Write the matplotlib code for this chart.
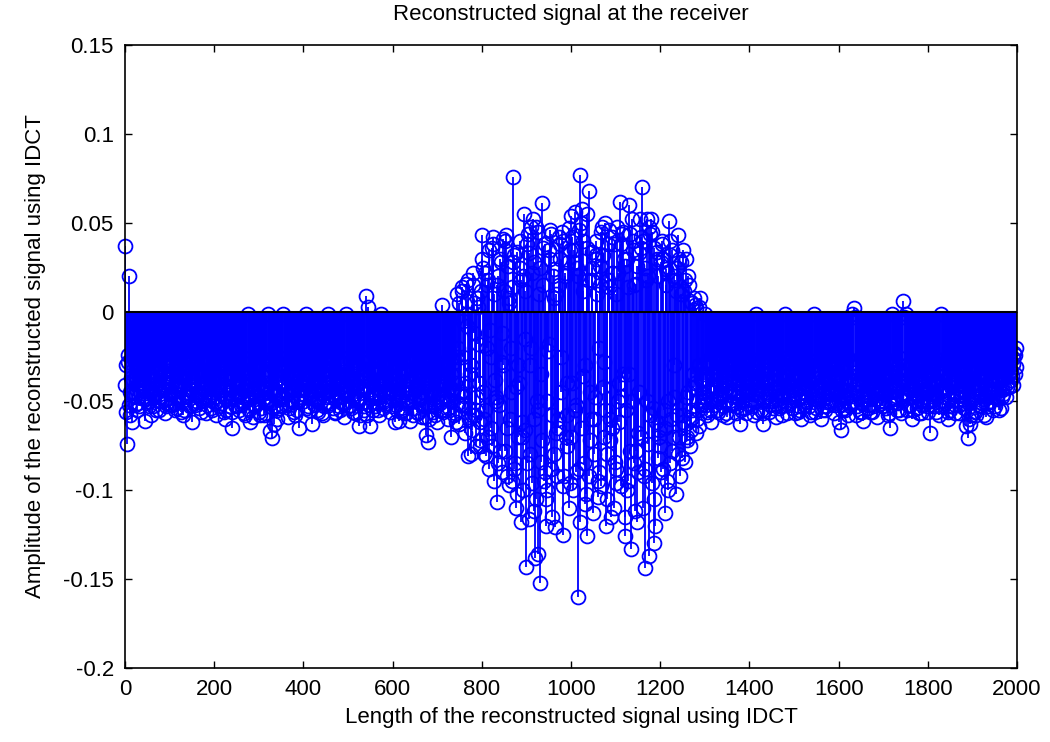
import matplotlib
matplotlib.use("Agg")
import matplotlib.pyplot as plt
import numpy as np

plt.rcParams["font.family"] = ["Liberation Sans", "DejaVu Sans"]

# amplitudes, in thousandths; each segment covers 200 samples
# set A: offset 0, step 5
seg_a = [
    [37, -74, 20, -62, -24, -43, -51, -36, -48, -61, -40, -53, -33, -47, -55, -29, -50, -44, -57, -38,
     -52, -46, -35, -54, -49, -41, -58, -31, -47, -53, -62, -39, -50, -45, -56, -34, -48, -52, -42, -55],
    [-48, -58, -36, -51, -44, -60, -39, -53, -65, -47, -41, -55, -33, -50, -58, -1, -62, -45, -52, -38,
     -56, -43, -49, -57, -1, -67, -71, -63, -46, -54, -40, -1, -52, -59, -44, -50, -36, -55, -65, -48],
    [-42, -1, -53, -47, -63, -38, -55, -49, -44, -58, -35, -1, -51, -46, -56, -40, -53, -48, -59, -1,
     -45, -52, -37, -57, -49, -64, -43, -55, 9, 3, -64, -47, -53, -39, -58, -1, -44, -51, -36, -56],
    [-49, -62, -41, -61, -54, -45, -57, -38, -61, -50, -44, -56, -47, -59, -42, -69, -73, -52, -46, -58,
     -62, -40, 4, -55, -48, -60, -70, -44, -57, 10, -63, 14, -52, 16, -81, -80, 22, -58, 8, -72],
    [43, -80, -81, 18, -65, 42, -38, -107, 30, -90, 12, 43, -97, -20, 76, -85, -102, 25, -70, 55,
     -143, -116, 48, 52, -138, -136, -152, 61, -95, -120, 35, -88, 20, -121, -60, 38, 45, -92, -75, -110],
    [54, -100, 56, -160, 77, 58, -85, -126, 68, -60, -113, 30, -95, 15, 48, -70, -105, 46, -115, 22,
     -88, -50, 62, 44, -126, -100, 60, -133, 35, -78, -90, 52, 70, -144, 52, -137, 52, -130, 28, -82],
    [-75, 38, -113, -95, 51, -60, 20, -102, 43, -92, 35, -84, -72, 15, -66, 8, -68, -55, 8, -48,
     -1, -58, -44, -62, -50, -38, -56, -47, -53, -41, -59, -35, -51, -45, -57, -40, -63, -49, -54, -37],
    [-52, -46, -58, -1, -43, -55, -63, -48, -39, -56, -50, -44, -59, -36, -53, -47, -1, -57, -42, -54,
     -49, -38, -56, -60, -45, -52, -34, -58, -47, -1, -54, -41, -60, -49, -55, -37, -51, -44, -57, -46],
    [-62, -66, -48, -55, -40, -53, -1, 2, -58, -45, -51, -61, -38, -54, -47, -56, -42, -59, -50, -36,
     -53, -46, -58, -65, -1, -49, -55, -41, -57, 6, -1, -52, -44, -60, -48, -54, -39, -57, -50, -45],
    [-56, -68, -47, -53, -41, -58, -1, -50, -44, -60, -55, -38, -52, -47, -57, -43, -54, -64, -71, -63,
     -49, -56, -40, -52, -46, -58, -59, -44, -50, -37, -53, -47, -55, -54, -42, -48, -36, -33, -41, -24],
]
# set B: offset 2
seg_b = [
    [-56, -28, -45, -38, -52, -30, -47, -41, -35, -49, -27, -44, -53, -38, -31, -48, -42, -36, -51, -25,
     -46, -39, -55, -33, -43, -50, -28, -45, -37, -52, -41, -30, -47, -54, -35, -43, -26, -49, -38, -46],
    [-34, -50, -42, -27, -48, -55, -31, -44, -38, -52, -29, -46, -40, -57, -33, -49, -43, -36, -53, -25,
     -47, -41, -58, -32, -45, -51, -28, -44, -60, -37, -49, -30, -46, -54, -35, -42, -27, -50, -39, -44],
    [-31, -47, -55, -36, -44, -28, -50, -41, -33, -53, -45, -26, -48, -39, -57, -34, -43, -51, -29, -46,
     -38, -54, -42, -30, -49, -58, -35, -44, -26, -52, -40, -47, -32, -55, -43, -37, -50, -28, -45, -41],
    [-38, -52, -29, -47, -55, -34, -43, -50, -26, -48, -41, -57, -33, -45, -52, -37, -60, -44, -30, -53,
     -47, -39, -56, -28, -49, -42, -35, -58, -25, -51, -46, -5, -40, 6, -54, -66, -12, -48, 3, -62],
    [25, -55, -20, 35, -75, 10, -48, -85, 28, -30, 40, -65, 5, -95, 32, -42, -70, 18, -100, -15,
     38, -80, 22, -60, -105, 45, -35, 15, -90, -50, 30, -115, 8, -68, 42, -25, -98, 20, -58, 35],
    [-40, 28, -90, 46, -65, 12, -108, 36, -45, 25, -80, 40, -20, -98, 32, -55, 18, -72, 42, -110,
     10, -62, 38, -35, 26, -95, 44, -50, 15, -118, 33, -70, 40, -88, 20, -58, 45, -105, 30, -66],
    [28, -88, 15, -50, 40, -78, -30, 25, -70, 10, -58, 30, -45, -75, 5, -40, -60, 3, -52, -35,
     -48, -28, -55, -42, -33, -50, -26, -46, -38, -57, -31, -44, -52, -29, -47, -40, -55, -34, -45, -27],
    [-44, -33, -50, -27, -47, -39, -55, -30, -45, -52, -36, -28, -49, -42, -58, -34, -44, -25, -51, -38,
     -46, -31, -53, -40, -29, -48, -43, -56, -35, -45, -27, -50, -38, -53, -31, -46, -41, -28, -52, -36],
    [-47, -30, -54, -39, -44, -27, -50, -3, -41, -56, -33, -46, -28, -52, -40, -35, -49, -26, -45, -53,
     -31, -42, -57, -36, -44, -29, -51, -38, -47, -3, -32, -48, -41, -55, -27, -46, -37, -52, -30, -43],
    [-35, -50, -28, -46, -39, -53, -31, -44, -27, -49, -42, -33, -57, -38, -45, -29, -51, -40, -60, -34,
     -47, -26, -43, -53, -36, -49, -30, -45, -38, -55, -28, -43, -35, -48, -32, -40, -25, -38, -29, -20],
]
# set C: offset 1
seg_c = [
    [-41, -24, -58, -33, -47, -29, -53, -38, -44, -31, -50, -36, -27, -46, -40, -55, -32, -43, -49, -28,
     -37, -52, -45, -30, -41, -56, -34, -48, -26, -44, -39, -51, -29, -46, -42, -33, -57, -37, -48, -31],
    [-45, -30, -53, -39, -27, -49, -42, -35, -56, -31, -46, -38, -52, -26, -44, -48, -33, -59, -40, -47,
     -29, -54, -36, -43, -50, -28, -45, -39, -55, -32, -47, -41, -26, -51, -37, -44, -58, -30, -46, -35],
    [-50, -34, -27, -46, -40, -52, -31, -44, -57, -37, -48, -29, -42, -54, -33, -45, -39, -26, -51, -43,
     -35, -47, -56, -30, -41, -49, -28, -53, -38, -44, -32, -55, -46, -27, -48, -40, -34, -52, -43, -29],
    [-44, -30, -55, -39, -47, -33, -50, -27, -45, -58, -36, -42, -49, -31, -53, -40, -28, -46, -56, -35,
     -43, -51, -29, -48, -37, -54, -26, -45, -40, -20, -52, 12, -47, -8, -60, -30, 15, -55, -18, -75],
    [30, -60, 15, -88, -25, 38, -50, 20, -78, -12, 35, -92, 8, -45, 28, -110, -30, 40, -62, 12,
     -85, 33, -20, -112, 48, -55, 25, -72, 38, -100, -18, 44, -80, 10, -65, 30, -125, 22, -40, 47],
    [-70, 35, -52, 20, -118, 40, -30, 55, -92, 18, -60, 32, -104, 26, -42, 50, -80, 14, -65, 38,
     -96, 22, -48, 45, -115, 30, -35, 52, -85, 16, -68, 42, -110, 25, -50, 48, -96, 36, -62, 20],
    [-90, 30, -65, 22, -85, 35, -48, 12, -80, 28, -62, 18, -70, 6, -55, -42, 2, -64, -38, -50,
     -30, -56, -44, -35, -52, -28, -47, -40, -58, -33, -45, -26, -51, -39, -48, -31, -54, -43, -29, -46],
    [-38, -53, -30, -45, -41, -28, -57, -35, -47, -32, -50, -43, -26, -54, -37, -46, -31, -52, -40, -29,
     -48, -35, -55, -42, -27, -50, -38, -44, -33, -56, -30, -47, -41, -26, -53, -36, -45, -49, -32, -43],
    [-36, -52, -44, -29, -58, -38, -47, -31, -53, -40, -26, -49, -43, -35, -56, -30, -46, -41, -28, -51,
     -37, -54, -33, -45, -48, -27, -42, -55, -34, -46, -40, -29, -52, -36, -44, -31, -57, -39, -48, -33],
    [-45, -30, -53, -38, -47, -27, -50, -42, -35, -56, -31, -46, -39, -28, -52, -44, -33, -48, -37, -58,
     -30, -45, -41, -26, -51, -36, -47, -53, -32, -43, -38, -49, -27, -44, -37, -30, -42, -33, -26, -35],
]
# set D: offset 3
seg_d = [
    [-30, -52, -37, -45, -28, -55, -40, -33, -49, -43, -36, -58, -31, -42, -50, -26, -47, -39, -53, -34,
     -44, -29, -51, -41, -36, -48, -55, -32, -43, -38, -27, -52, -45, -33, -50, -40, -29, -47, -54, -36],
    [-51, -37, -44, -30, -56, -42, -26, -48, -35, -53, -40, -31, -47, -44, -29, -55, -38, -45, -32, -51,
     -58, -36, -43, -27, -49, -40, -54, -33, -46, -30, -52, -44, -37, -28, -50, -56, -34, -43, -39, -31],
    [-37, -54, -43, -30, -49, -38, -56, -27, -46, -40, -33, -52, -44, -31, -48, -37, -55, -29, -45, -41,
     -53, -34, -47, -28, -50, -39, -44, -32, -58, -36, -46, -42, -27, -51, -38, -54, -31, -47, -40, -53],
    [-33, -47, -40, -56, -28, -51, -38, -45, -32, -54, -42, -30, -48, -36, -59, -27, -44, -40, -52, -31,
     -46, -55, -34, -41, -30, -50, -43, -28, -62, 5, -45, -25, -68, 18, -35, -58, 5, -75, -40, 12],
    [-45, 22, -70, -10, 36, -95, 15, -52, -28, 41, -78, 26, -60, 14, -88, 34, -40, -118, 20, -66,
     44, -30, -96, 28, -50, 10, -84, 36, -105, -22, 46, -58, 24, -92, 15, -45, 40, -70, 28, -96],
    [42, -55, 25, -88, 50, -36, -102, 18, -72, 34, -48, 10, -90, 45, -28, -120, 38, -60, 22, -84,
     48, -40, -98, 30, -55, 14, -78, 40, -112, 26, -45, 36, -92, 18, -74, 44, -54, -120, 34, -70],
    [40, -55, 24, -100, 32, -70, 18, -58, 30, -82, 12, -48, 20, -60, -35, 4, -50, -30, -45, -38,
     -52, -27, -49, -41, -33, -55, -37, -44, -30, -50, -42, -28, -47, -36, -53, -32, -45, -40, -57, -34],
    [-49, -40, -31, -56, -43, -35, -50, -27, -46, -38, -54, -32, -45, -41, -29, -52, -36, -48, -44, -30,
     -57, -39, -26, -47, -42, -34, -53, -31, -49, -37, -44, -28, -55, -40, -33, -50, -46, -29, -42, -38],
    [-43, -55, -32, -48, -37, -51, -28, -45, -40, -34, -56, -30, -47, -42, -27, -53, -38, -44, -31, -50,
     -45, -36, -28, -52, -41, -47, -33, -26, -49, -38, -55, -43, -30, -46, -50, -35, -27, -44, -41, -53],
    [-31, -47, -40, -56, -34, -44, -52, -29, -46, -38, -53, -30, -45, -41, -33, -49, -37, -55, -27, -44,
     -40, -58, -32, -47, -36, -42, -51, -28, -45, -33, -48, -39, -30, -46, -34, -42, -28, -36, -23, -31],
]

x_ticks = [0, 200, 400, 600, 800, 1000, 1200, 1400, 1600, 1800, 2000]
y_ticks = [-0.2, -0.15, -0.1, -0.05, 0, 0.05, 0.1, 0.15]
y_labels = ["-0.2", "-0.15", "-0.1", "-0.05", "0", "0.05", "0.1", "0.15"]

n_list, amp_list = [], []
for offset, segs in [(0, seg_a), (2, seg_b), (1, seg_c), (3, seg_d)]:
    for i, seg in enumerate(segs):
        n_list.append(200 * i + offset + 5 * np.arange(len(seg)))
        amp_list.append(np.array(seg) / 1000.0)
n = np.concatenate(n_list)
amp = np.concatenate(amp_list)
order = np.argsort(n, kind="stable")
n, amp = n[order], amp[order]

fig = plt.figure(figsize=(10.5, 7.42), dpi=100)
ax = fig.add_axes([0.119, 0.0997, 0.8496, 0.8396])

markers, stems, base = ax.stem(n, amp, linefmt="b-", markerfmt="bo", basefmt="k-")
plt.setp(stems, linewidth=1.3, color=(0, 0, 1))
plt.setp(markers, markersize=10, markerfacecolor="none", markeredgecolor=(0, 0, 1),
         markeredgewidth=1.3, clip_on=False)
plt.setp(base, linewidth=1.5, color="black", zorder=5)

ax.set_xlim(0, 2000)
ax.set_ylim(-0.2, 0.15)
ax.set_xticks(x_ticks)
ax.set_xticklabels([str(t) for t in x_ticks])
ax.set_yticks(y_ticks)
ax.set_yticklabels(y_labels)
ax.tick_params(direction="in", length=5, width=1, top=True, right=True, labelsize=16, pad=8)
for s in ax.spines.values():
    s.set_linewidth(1.2)

ax.set_title("Reconstructed signal at the receiver", fontsize=16, pad=18)
ax.set_xlabel("Length of the reconstructed signal using IDCT", fontsize=16, labelpad=5)
ax.set_ylabel("Amplitude of the reconstructed signal using IDCT", fontsize=16, labelpad=12)

fig.savefig("out.png", dpi=100)
